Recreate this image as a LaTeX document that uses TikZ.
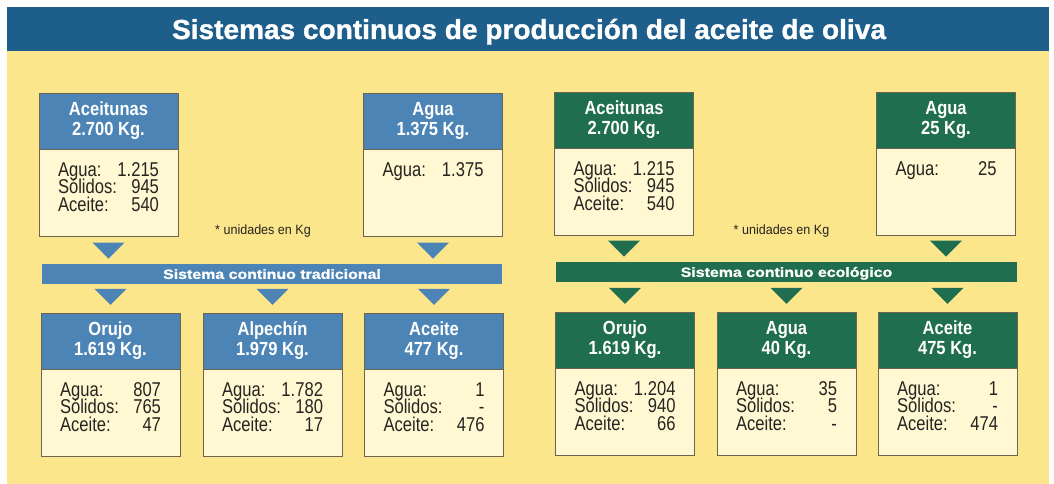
\documentclass[tikz,border=0pt]{standalone}
\usepackage{fontspec}
\setmainfont{Liberation Sans}
\newfontfamily\titlefont[FakeStretch=1.02,BoldFeatures={FakeBold=1.2}]{Liberation Sans}
\newfontfamily\barfont[FakeStretch=1.18,BoldFeatures={FakeBold=1.2}]{Liberation Sans}
\newfontfamily\narrowfont[FakeStretch=0.87]{Liberation Sans}
\newfontfamily\bodyfont[FakeStretch=0.83]{Liberation Sans}
\newfontfamily\notefont[FakeStretch=0.93]{Liberation Sans}
\usepackage{xcolor}
\usepackage{tikz}
\usetikzlibrary{calc}

\definecolor{bandblue}{HTML}{1D5F8A}
\definecolor{boxblue}{HTML}{4C84B5}
\definecolor{boxgreen}{HTML}{1F6E4F}
\definecolor{paper}{HTML}{FCE68C}
\definecolor{cream}{HTML}{FFF8D3}
\definecolor{edge}{HTML}{6B6450}
\definecolor{ink}{HTML}{262420}

\newcommand{\cuerpo}[1]{\parbox[c][87pt][t]{101pt}{\bodyfont\fontsize{20}{17.5}\selectfont\lineskiplimit=-50pt\rule{0pt}{27pt}#1}}
\newcommand{\flecha}[3]{\fill[#1] ($(#2)+(-16,#3)$) -- ($(#2)+(16,#3)$) -- ($(#2)+(0,#3+16)$) -- cycle;}

\begin{document}
\begin{tikzpicture}[x=1pt,y=-1pt,
  cabeza/.style={minimum width=139pt,minimum height=56pt,inner sep=0pt,draw=edge,text=white,align=center,font=\narrowfont\bfseries\fontsize{19}{20}\selectfont},
  caja/.style={anchor=north,fill=cream,draw=edge,inner xsep=19pt,inner ysep=0pt,minimum width=139pt,text=ink},
  barra/.style={minimum height=20pt,inner sep=0pt,text=white,text height=9.8pt,text depth=0pt,font=\barfont\bfseries\fontsize{13.5}{16}\selectfont},
  nota/.style={anchor=base,text=ink,font=\notefont\fontsize{13.5}{15}\selectfont}]
\useasboundingbox (0,0) rectangle (1054,484);
\fill[white] (0,0) rectangle (1054,484);
\fill[paper] (7,51) rectangle (1049,484);
\fill[bandblue] (7,7) rectangle (1049,51);
\node[anchor=base,text=white,font=\titlefont\bfseries\fontsize{27.5}{30}\selectfont] (titulo) at (529,39) {Sistemas continuos de producción del aceite de oliva};

\node[cabeza,fill=boxblue] (aceit1) at (108.5,121) {Aceitunas\\2.700 Kg.};
\node[caja] (aceit1b) at (aceit1.south) {\cuerpo{Agua:\hfill 1.215\\Sólidos:\hfill 945\\Aceite:\hfill 540}};
\node[cabeza,fill=boxblue] (agua1) at (433,121) {Agua\\1.375 Kg.};
\node[caja] (agua1b) at (agua1.south) {\cuerpo{Agua:\hfill 1.375}};
\node[nota] (nota1) at (263,234) {* unidades en Kg};
\flecha{boxblue}{aceit1b.south}{6}
\flecha{boxblue}{agua1b.south}{6}
\node[barra,fill=boxblue,minimum width=460pt] (trad) at (272,274) {Sistema continuo tradicional};

\node[cabeza,fill=boxblue] (orujo1) at (110.5,341) {Orujo\\1.619 Kg.};
\node[caja] (orujo1b) at (orujo1.south) {\cuerpo{Agua:\hfill 807\\Sólidos:\hfill 765\\Aceite:\hfill 47}};
\node[cabeza,fill=boxblue] (alpe1) at (272.5,341) {Alpechín\\1.979 Kg.};
\node[caja] (alpe1b) at (alpe1.south) {\cuerpo{Agua:\hfill 1.782\\Sólidos:\hfill 180\\Aceite:\hfill 17}};
\node[cabeza,fill=boxblue] (aceite1) at (434,341) {Aceite\\477 Kg.};
\node[caja] (aceite1b) at (aceite1.south) {\cuerpo{Agua:\hfill 1\\Sólidos:\hfill -\\Aceite:\hfill 476}};
\flecha{boxblue}{orujo1.north}{-24}
\flecha{boxblue}{alpe1.north}{-24}
\flecha{boxblue}{aceite1.north}{-24}

\node[cabeza,fill=boxgreen] (aceit2) at (624,120) {Aceitunas\\2.700 Kg.};
\node[caja] (aceit2b) at (aceit2.south) {\cuerpo{Agua:\hfill 1.215\\Sólidos:\hfill 945\\Aceite:\hfill 540}};
\node[cabeza,fill=boxgreen] (agua2) at (946,120) {Agua\\25 Kg.};
\node[caja] (agua2b) at (agua2.south) {\cuerpo{Agua:\hfill 25}};
\node[nota] (nota2) at (781.5,234) {* unidades en Kg};
\flecha{boxgreen}{aceit2b.south}{5}
\flecha{boxgreen}{agua2b.south}{5}
\node[barra,fill=boxgreen,minimum width=461pt] (eco) at (786.5,272) {Sistema continuo ecológico};

\node[cabeza,fill=boxgreen] (orujo2) at (625,340) {Orujo\\1.619 Kg.};
\node[caja] (orujo2b) at (orujo2.south) {\cuerpo{Agua:\hfill 1.204\\Sólidos:\hfill 940\\Aceite:\hfill 66}};
\node[cabeza,fill=boxgreen] (agua3) at (786.5,340) {Agua\\40 Kg.};
\node[caja] (agua3b) at (agua3.south) {\cuerpo{Agua:\hfill 35\\Sólidos:\hfill 5\\Aceite:\hfill -}};
\node[cabeza,fill=boxgreen] (aceite2) at (947.5,340) {Aceite\\475 Kg.};
\node[caja] (aceite2b) at (aceite2.south) {\cuerpo{Agua:\hfill 1\\Sólidos:\hfill -\\Aceite:\hfill 474}};
\flecha{boxgreen}{orujo2.north}{-24}
\flecha{boxgreen}{agua3.north}{-24}
\flecha{boxgreen}{aceite2.north}{-24}
\end{tikzpicture}
\end{document}
